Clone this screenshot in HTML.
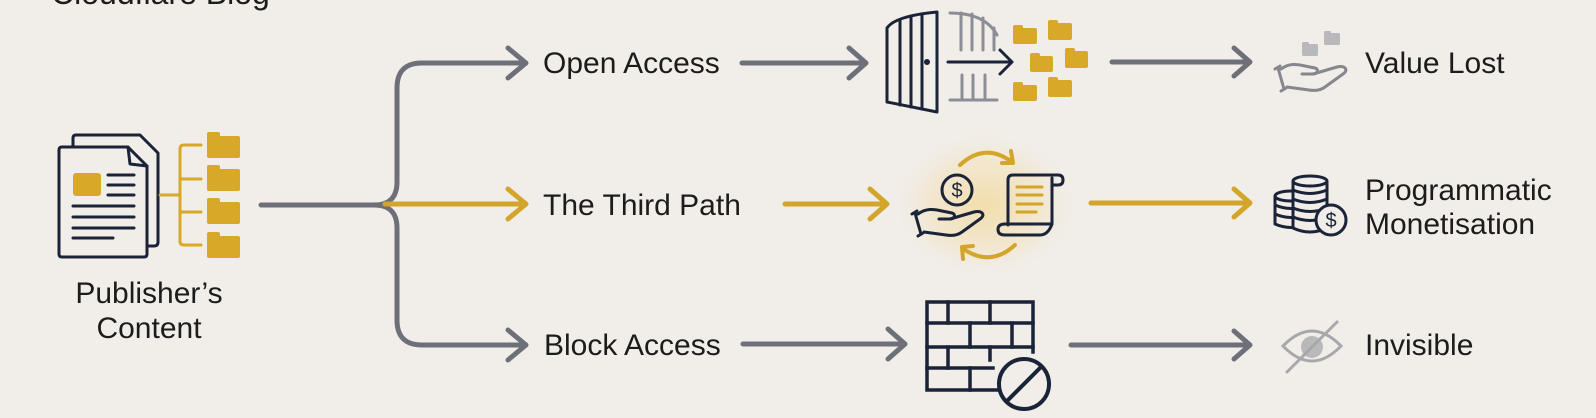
<!DOCTYPE html>
<html><head><meta charset="utf-8"><style>
html,body{margin:0;padding:0;background:#f1ede8;}
svg{display:block;}
text{font-family:"Liberation Sans",Arial,sans-serif;fill:#1c1c1c;}
</style></head><body>
<svg width="1596" height="418" viewBox="0 0 1596 418" xmlns="http://www.w3.org/2000/svg">
<defs>
<radialGradient id="glow" cx="50%" cy="50%" r="50%">
<stop offset="0" stop-color="#f3d27a" stop-opacity="0.55"/>
<stop offset="0.6" stop-color="#f3d589" stop-opacity="0.25"/>
<stop offset="1" stop-color="#f1ede8" stop-opacity="0"/>
</radialGradient>
</defs>
<rect width="1596" height="418" fill="#f1ede8"/>
<text x="51" y="4" font-size="32">Cloudflare Blog</text>

<!-- Publisher's content icon -->
<g fill="none" stroke="#1b2338" stroke-width="3" stroke-linecap="round" stroke-linejoin="round">
<path d="M73,146 V138 Q73,135 76,135 H140 L158,153 V242 Q158,246 154,246 H147"/>
<path d="M62,147 H128 L147,166 V254 Q147,257 144,257 H62 Q59,257 59,254 V150 Q59,147 62,147 Z" fill="#f1ede8"/>
<path d="M128,147 L130,164 L147,166"/>
<path d="M108,175 H134 M108,185 H134 M108,195 H134 M73,206 H134 M73,217 H134 M73,228 H134 M73,238 H113"/>
</g>
<rect x="73" y="173" width="28" height="23" rx="3" fill="#d8a829"/>
<g fill="none" stroke="#d8a829" stroke-width="3" stroke-linecap="round">
<path d="M160,195 H180 M201,145 H184 Q180,145 180,149 V241 Q180,245 184,245 H201 M180,179 H201 M180,212 H201"/>
</g>
<g fill="#d8a829">
<rect x="207" y="132" width="13" height="8" rx="2"/><rect x="207" y="136" width="33" height="22" rx="2"/>
<rect x="207" y="165" width="13" height="8" rx="2"/><rect x="207" y="169" width="33" height="22" rx="2"/>
<rect x="207" y="198" width="13" height="8" rx="2"/><rect x="207" y="202" width="33" height="22" rx="2"/>
<rect x="207" y="232" width="13" height="8" rx="2"/><rect x="207" y="236" width="33" height="22" rx="2"/>
</g>
<text x="149" y="303" font-size="30" text-anchor="middle">Publisher’s</text>
<text x="149" y="338" font-size="30" text-anchor="middle">Content</text>

<!-- main connectors -->
<g fill="none" stroke="#6e7079" stroke-width="5" stroke-linecap="round" stroke-linejoin="round">
<path d="M261,205 H374 Q397,205 397,182 V88 Q397,63 422,63 H523"/>
<path d="M374,205 Q397,205 397,228 V320 Q397,345 422,345 H523"/>
<polyline points="508,48 526,63 508,78"/>
<polyline points="508,330 526,345 508,360"/>
</g>
<g fill="none" stroke="#d4a52b" stroke-width="5" stroke-linecap="round" stroke-linejoin="round">
<path d="M385,204 H523"/>
<polyline points="508,189 526,204 508,219"/>
</g>

<text x="543" y="73" font-size="30">Open Access</text>
<text x="543" y="215" font-size="30">The Third Path</text>
<text x="544" y="355" font-size="30">Block Access</text>

<!-- second arrows -->
<g fill="none" stroke="#6e7079" stroke-width="5" stroke-linecap="round" stroke-linejoin="round">
<path d="M742,63 H864"/><polyline points="849,48 866,63 849,78"/>
<path d="M743,344 H903"/><polyline points="888,329 905,344 888,359"/>
<path d="M1112,62 H1248"/><polyline points="1234,48 1250,62 1234,76"/>
<path d="M1071,345 H1248"/><polyline points="1234,331 1250,345 1234,359"/>
</g>
<g fill="none" stroke="#d4a52b" stroke-width="5" stroke-linecap="round" stroke-linejoin="round">
<path d="M785,204 H885"/><polyline points="870,189 887,204 870,219"/>
<path d="M1091,203 H1248"/><polyline points="1234,189 1250,203 1234,217"/>
</g>

<!-- gate icon -->
<g fill="none" stroke="#1b2338" stroke-width="3" stroke-linecap="round" stroke-linejoin="round">
<path d="M887,102 V28 Q895,16 937,12 V112 Z"/>
<path d="M900,20 V105 M911,16 V107 M922,14 V109"/>
<circle cx="927" cy="62" r="1.5" fill="#1b2338"/>
<path d="M948,62 H1011"/><polyline points="1000,50 1012,62 1000,74"/>
</g>
<g fill="none" stroke="#8b8e96" stroke-width="3" stroke-linecap="round">
<path d="M950,13 Q985,13 997,35"/>
<path d="M961,13 V50 M972,14 V50 M983,18 V50 M994,28 V50"/>
<path d="M962,75 V100 M973,75 V100 M985,75 V100 M950,100 H997"/>
</g>
<g fill="#d8a829">
<rect x="1013" y="25" width="10" height="6" rx="2"/><rect x="1013" y="28" width="24" height="16" rx="2"/>
<rect x="1048" y="20" width="10" height="6" rx="2"/><rect x="1048" y="23" width="24" height="17" rx="2"/>
<rect x="1030" y="53" width="10" height="6" rx="2"/><rect x="1030" y="56" width="23" height="16" rx="2"/>
<rect x="1065" y="48" width="10" height="6" rx="2"/><rect x="1065" y="51" width="23" height="17" rx="2"/>
<rect x="1013" y="82" width="10" height="6" rx="2"/><rect x="1013" y="85" width="24" height="16" rx="2"/>
<rect x="1048" y="77" width="10" height="6" rx="2"/><rect x="1048" y="80" width="24" height="17" rx="2"/>
</g>

<!-- third path icon -->
<ellipse cx="985" cy="205" rx="95" ry="75" fill="url(#glow)"/>
<g fill="none" stroke="#d4a52b" stroke-width="4" stroke-linecap="round" stroke-linejoin="round">
<path d="M960,165 Q985,142 1012,162"/><polyline points="1011,151 1013,163 1002,163"/>
<path d="M1015,245 Q990,268 962,248"/><polyline points="963,259 962,247 973,246"/>
<path d="M1017,187 H1042 M1017,195 H1042 M1017,204 H1042 M1017,212 H1036" stroke-width="3"/>
</g>
<g fill="none" stroke="#1b2338" stroke-width="3" stroke-linecap="round" stroke-linejoin="round">
<circle cx="957" cy="190" r="15"/>
<g transform="translate(912,208)">
<path d="M0,6 L5,3 M3,5 L9,26 M6,28 L11,25"/>
<path d="M6,6 C14,0 22,1 30,3 L40,5 C44,6 43,11 38,11 L27,11"/>
<path d="M38,11 L62,4 C70,2 74,7 68,11 L50,24 C46,27 40,28 34,27 L12,24"/>
</g>
<path d="M1008,225 V180 Q1008,175 1013,175 H1058 Q1063,175 1063,180 Q1063,185 1058,185 H1052 M1052,178 V224"/>
<path d="M1052,224 H1005 Q998,224 998,229.5 Q998,235 1005,235 H1040 Q1048,235 1052,224"/>
</g>
<text x="957" y="197" font-size="20" text-anchor="middle" style="fill:#1b2338">$</text>

<!-- wall icon -->
<g fill="none" stroke="#1b2338" stroke-width="3.5" stroke-linecap="square" stroke-linejoin="miter">
<path d="M1033,352 V302 H927 V390 H998"/>
<path d="M927,323 H1033 M927,347 H1033 M927,368 H993"/>
<path d="M948,302 V323 M990,302 V323 M970,323 V347 M1012,323 V347 M948,347 V368 M990,347 V360 M970,368 V390"/>
<circle cx="1024" cy="384" r="25" fill="#f1ede8" stroke-width="4"/>
<path d="M1041,367 L1007,401" stroke-width="4"/>
</g>

<!-- value lost icon -->
<g fill="#b9b9bb">
<rect x="1302" y="42" width="7" height="5" rx="1.5"/><rect x="1302" y="44" width="16" height="12" rx="1.5"/>
<rect x="1324" y="31" width="7" height="5" rx="1.5"/><rect x="1324" y="33" width="16" height="12" rx="1.5"/>
</g>
<g fill="none" stroke="#85878d" stroke-width="3" stroke-linecap="round" stroke-linejoin="round" transform="translate(1275,63)">
<path d="M0,6 L5,3 M3,5 L9,26 M6,28 L11,25"/>
<path d="M6,6 C14,0 22,1 30,3 L40,5 C44,6 43,11 38,11 L27,11"/>
<path d="M38,11 L62,4 C70,2 74,7 68,11 L50,24 C46,27 40,28 34,27 L12,24"/>
</g>
<text x="1365" y="73" font-size="30">Value Lost</text>

<!-- coins icon -->
<g fill="#f1ede8" stroke="#1b2338" stroke-width="3" stroke-linejoin="round">
<path d="M1275,196 V224 Q1291,231 1307,224 V196"/>
<ellipse cx="1291" cy="196" rx="16" ry="5"/>
<path d="M1275,205 Q1291,212 1307,205 M1275,214 Q1291,221 1307,214" fill="none"/>
<path d="M1293,181 V228 Q1310,236 1327,228 V181"/>
<ellipse cx="1310" cy="181" rx="17" ry="5"/>
<path d="M1293,190 Q1310,197 1327,190 M1293,199 Q1310,206 1327,199 M1293,208 Q1310,215 1327,208 M1293,217 Q1310,224 1327,217" fill="none"/>
<circle cx="1331" cy="220" r="15"/>
</g>
<text x="1331" y="227" font-size="20" text-anchor="middle" style="fill:#1b2338">$</text>
<text x="1365" y="200" font-size="30">Programmatic</text>
<text x="1365" y="234" font-size="30">Monetisation</text>

<!-- eye icon -->
<g fill="none" stroke="#a8a8ab" stroke-width="3" stroke-linecap="round">
<path d="M1283,346 Q1312,316 1341,346 Q1312,376 1283,346 Z"/>
<circle cx="1312" cy="347" r="11" fill="#b9b9bb" stroke="none"/>
<path d="M1337,322 L1287,372"/>
</g>
<text x="1365" y="355" font-size="30">Invisible</text>
</svg>
</body></html>
